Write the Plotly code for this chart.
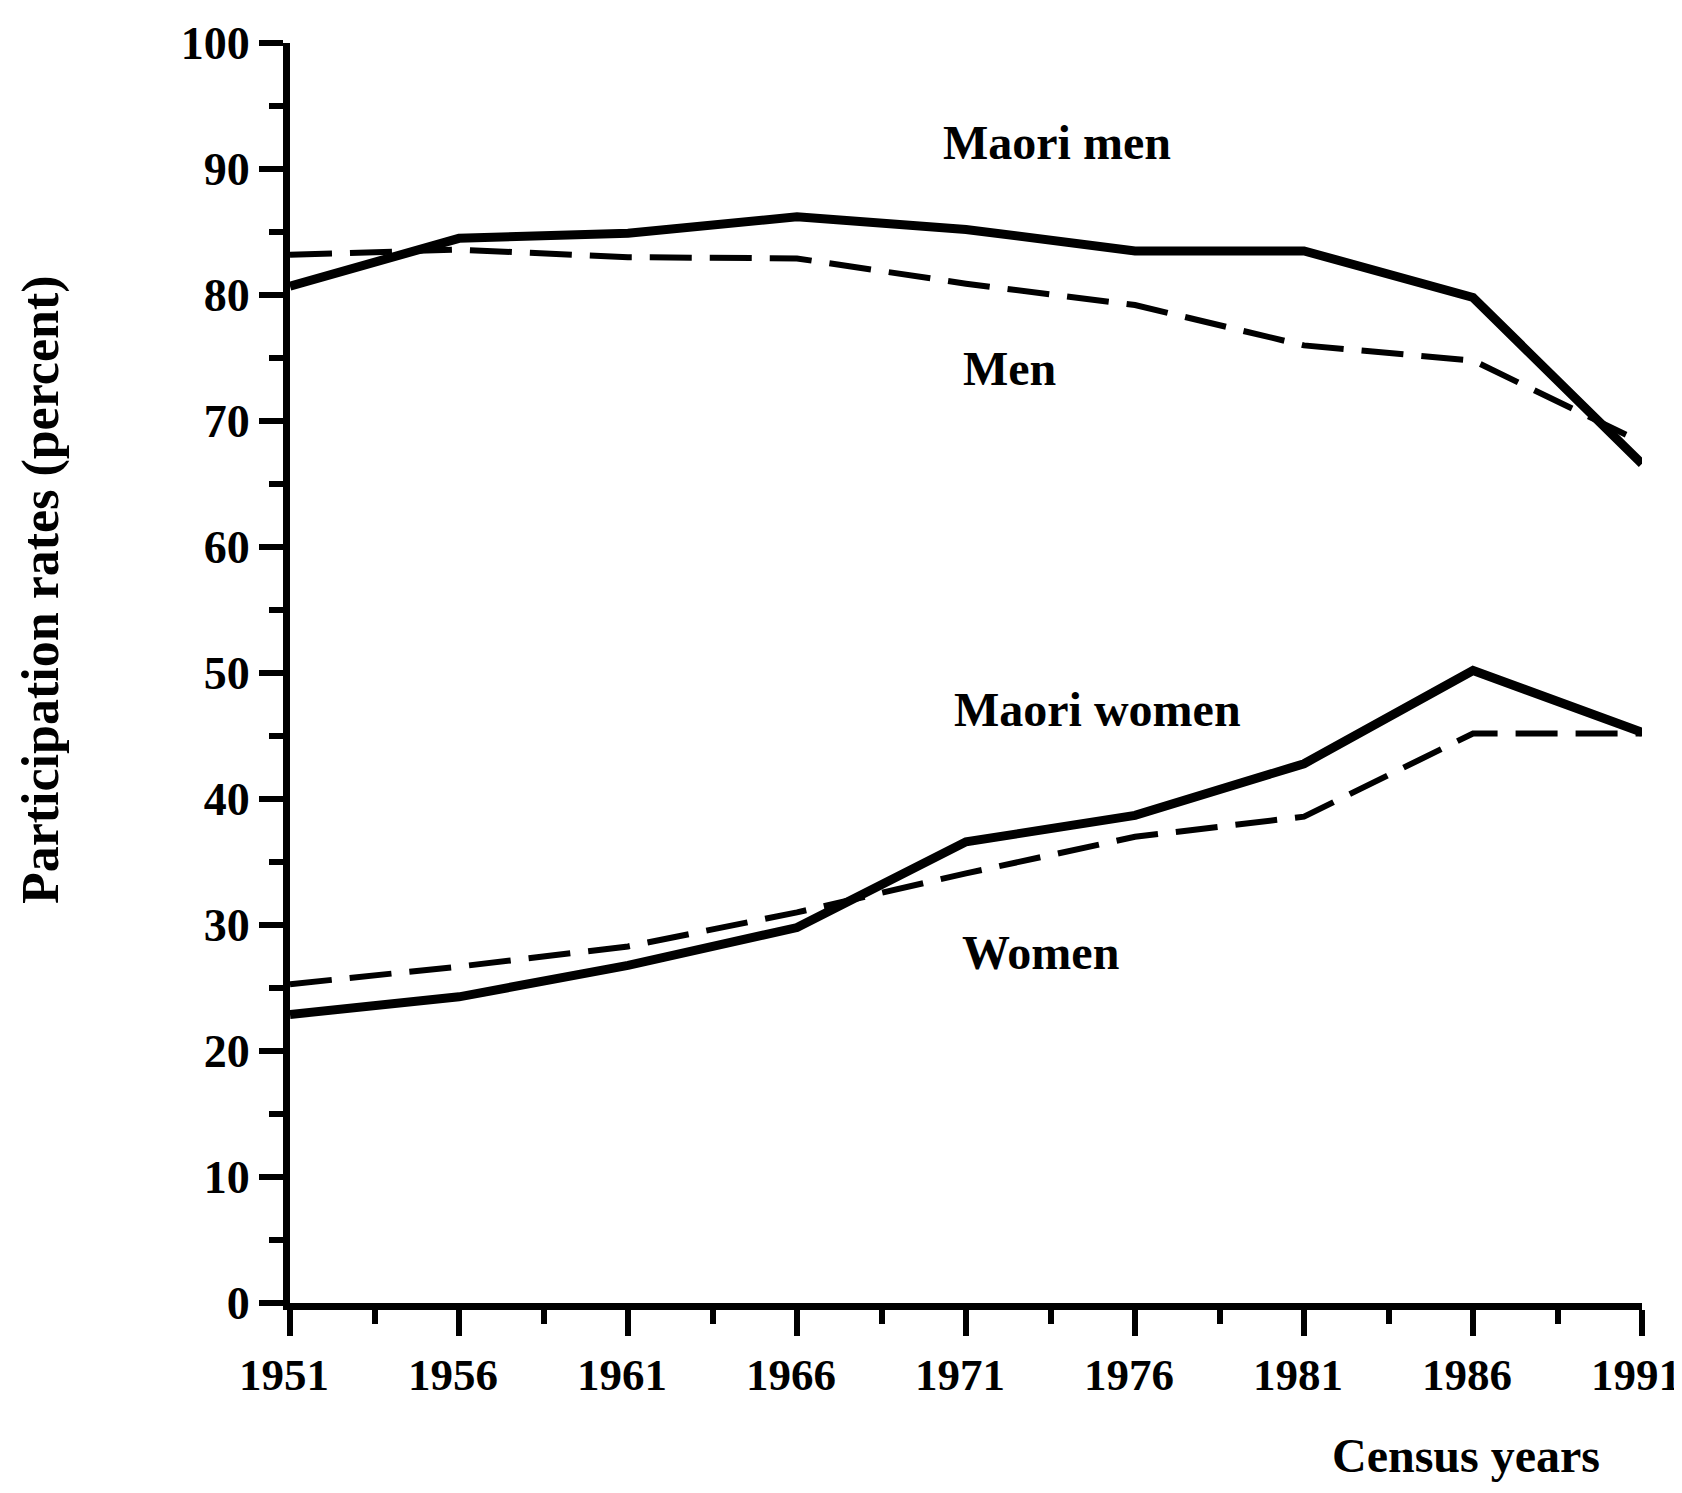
import plotly.graph_objects as go

years = [1951, 1956, 1961, 1966, 1971, 1976, 1981, 1986, 1991]
maori_men = [80.7, 84.5, 84.9, 86.2, 85.2, 83.5, 83.5, 79.8, 66.6]
men = [83.2, 83.6, 83.0, 82.9, 80.9, 79.2, 76.0, 74.8, 68.3]
maori_women = [22.9, 24.3, 26.8, 29.8, 36.6, 38.7, 42.8, 50.2, 45.3]
women = [25.3, 26.7, 28.3, 31.0, 34.1, 37.0, 38.6, 45.2, 45.2]

x_ticks = [1951, 1956, 1961, 1966, 1971, 1976, 1981, 1986, 1991]
y_ticks = [0, 10, 20, 30, 40, 50, 60, 70, 80, 90, 100]

FONT = "Liberation Serif"

fig = go.Figure()
fig.add_trace(go.Scatter(x=years, y=men, mode="lines", name="Men",
                         line=dict(color="black", width=6, dash="42px,18px")))
fig.add_trace(go.Scatter(x=years, y=women, mode="lines", name="Women",
                         line=dict(color="black", width=6, dash="42px,18px")))
fig.add_trace(go.Scatter(x=years, y=maori_men, mode="lines", name="Maori men",
                         line=dict(color="black", width=9)))
fig.add_trace(go.Scatter(x=years, y=maori_women, mode="lines", name="Maori women",
                         line=dict(color="black", width=9)))

labels = [
    ("Maori men", 1973.7, 92.1),
    ("Men", 1972.3, 74.2),
    ("Maori women", 1974.9, 47.1),
    ("Women", 1973.2, 27.8),
]
annotations = [
    dict(text=t, x=x, y=y, xref="x", yref="y", showarrow=False,
         font=dict(family=FONT, size=48, color="black", weight="bold"))
    for t, x, y in labels
]
annotations.append(dict(text="Participation rates (percent)", x=-0.184, y=0.566,
                        xref="paper", yref="paper", textangle=-90, showarrow=False,
                        xanchor="center", yanchor="middle",
                        font=dict(family=FONT, size=52, color="black", weight="bold")))
annotations.append(dict(text="Census years", x=0.870, y=-0.121,
                        xref="paper", yref="paper", showarrow=False,
                        xanchor="center", yanchor="middle",
                        font=dict(family=FONT, size=48, color="black", weight="bold")))

fig.update_layout(
    width=1674, height=1477,
    margin=dict(l=282, r=40, t=35, b=182, autoexpand=False),
    paper_bgcolor="white", plot_bgcolor="white",
    showlegend=False,
    annotations=annotations,
)
fig.update_xaxes(
    range=[1951, 1991], tickvals=x_ticks, ticktext=[str(v) for v in x_ticks],
    automargin=False,
    showgrid=False, zeroline=False, showline=True, linecolor="black", linewidth=7,
    ticks="outside", ticklen=26, tickwidth=6, tickcolor="black",
    ticklabelstandoff=0, ticklabelshift=-6, ticklabeloverflow="allow",
    minor=dict(ticks="outside", dtick=2.5, tick0=1951, ticklen=14, tickwidth=6,
               tickcolor="black", showgrid=False),
    tickfont=dict(family=FONT, size=45, color="black", weight="bold"),
)
fig.update_yaxes(
    range=[0, 100], tickvals=y_ticks, ticktext=[str(v) for v in y_ticks],
    automargin=False,
    showgrid=False, zeroline=False, showline=True, linecolor="black", linewidth=7,
    ticks="outside", ticklen=24, tickwidth=6, tickcolor="black",
    ticklabelstandoff=0,
    minor=dict(ticks="outside", dtick=5, tick0=0, ticklen=14, tickwidth=6,
               tickcolor="black", showgrid=False),
    tickfont=dict(family=FONT, size=46, color="black", weight="bold"),
)

fig.write_html("out.html")
